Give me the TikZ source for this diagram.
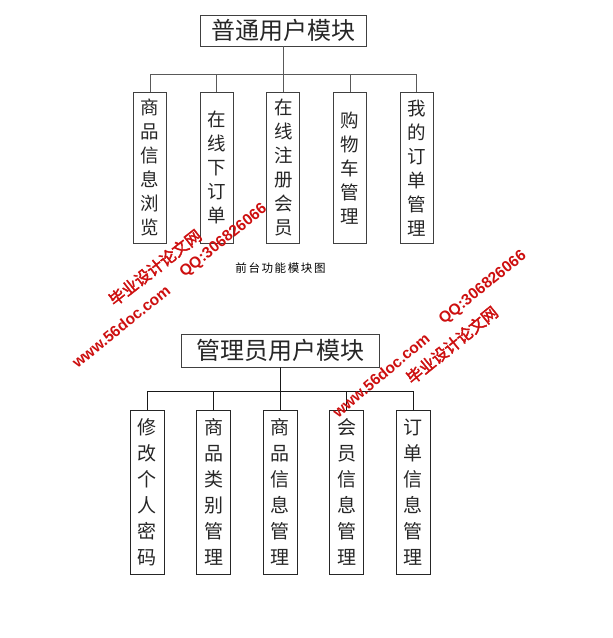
\documentclass[tikz,border=0pt]{standalone}
\usepackage{fontspec}
\setmainfont{Noto Sans CJK SC}
\newfontfamily\latfont{Liberation Sans}
\newfontfamily\wmcjk[FakeBold=2.5]{Noto Sans CJK SC}
\definecolor{wmred}{RGB}{205,15,15}
\begin{document}
\begin{tikzpicture}[x=1pt,y=-1pt,
  titlebox/.style={draw=black!75, line width=0.8pt, inner sep=0pt, text=black!85,
    font=\fontsize{24}{24}\selectfont},
  childA/.style={draw=black!75, line width=0.8pt, minimum width=33pt, minimum height=151pt,
    inner sep=0pt, align=center, text=black!85, font=\fontsize{18.5}{24}\selectfont},
  childB/.style={draw=black!85, line width=0.8pt, minimum width=34pt, minimum height=164pt,
    inner sep=0pt, align=center, text=black!85, font=\fontsize{19}{26}\selectfont},
  linkA/.style={line width=0.9pt, draw=black!65},
  linkB/.style={line width=0.8pt, draw=black!90},
  wmark/.style={text=wmred, inner sep=0pt},
  wmlat/.style={wmark, font=\latfont\bfseries\fontsize{15.5}{16}\selectfont},
  wmzh/.style={wmark, font=\wmcjk\fontsize{16}{16}\selectfont}
]
\useasboundingbox (0,0) rectangle (613,638);

% ---------- front-end module ----------
\node[titlebox, minimum width=166pt, minimum height=31pt] (t1) at (283.3,30.5) {普通用户模块};
\node[childA] (a1) at (150,167.8) {商\\品\\信\\息\\浏\\览};
\node[childA] (a2) at (216.7,167.8) {在\\线\\下\\订\\单};
\node[childA] (a3) at (283.3,167.8) {在\\线\\注\\册\\会\\员};
\node[childA] (a4) at (350,167.8) {购\\物\\车\\管\\理};
\node[childA] (a5) at (416.7,167.8) {我\\的\\订\\单\\管\\理};
\coordinate (j1) at (283.3,74);
\draw[linkA] (t1.south) -- (j1);
\foreach \i in {1,...,5} {\draw[linkA] (a\i.north) |- (j1);}

\node[font=\fontsize{11.5}{12}\selectfont\addfontfeature{LetterSpace=14}] (cap) at (280.5,268) {前台功能模块图};

% ---------- admin module ----------
\node[titlebox, minimum width=198pt, minimum height=33pt] (t2) at (280,350.5) {管理员用户模块};
\node[childB] (b1) at (147,492) {修\\改\\个\\人\\密\\码};
\node[childB] (b2) at (213.7,492) {商\\品\\类\\别\\管\\理};
\node[childB] (b3) at (280,492) {商\\品\\信\\息\\管\\理};
\node[childB] (b4) at (346.7,492) {会\\员\\信\\息\\管\\理};
\node[childB] (b5) at (413.3,492) {订\\单\\信\\息\\管\\理};
\coordinate (j2) at (280,391.7);
\draw[linkB] (t2.south) -- (j2);
\foreach \i in {1,...,5} {\draw[linkB] (b\i.north) |- (j2);}

% ---------- watermarks ----------
\node[wmzh, rotate=38] (w1) at (155,267.5) {毕业设计论文网};
\node[wmlat, rotate=39] (w2) at (223.7,241) {QQ:306826066};
\node[wmlat, rotate=39] (w3) at (121,326.5) {www.56doc.com};
\node[wmlat, rotate=40] (w4) at (381,375) {www.56doc.com};
\node[wmlat, rotate=39] (w5) at (483,288) {QQ:306826066};
\node[wmzh, rotate=39] (w6) at (452,345) {毕业设计论文网};
\end{tikzpicture}
\end{document}
